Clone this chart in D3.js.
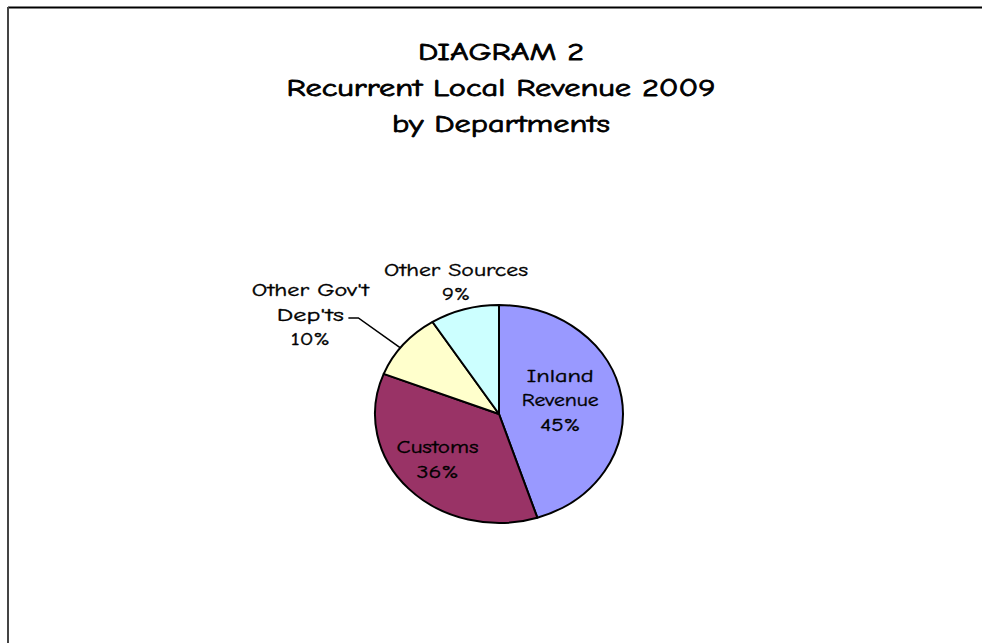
<!DOCTYPE html>
<html>
<head>
<meta charset="utf-8">
<script src="https://cdn.jsdelivr.net/npm/d3@7"></script>
<style>
  html, body { margin: 0; padding: 0; background: #fff; }
  svg { display: block; }
  text { font-family: "Comic Sans MS", "Comic Neue", "DejaVu Sans", sans-serif; fill: #000; stroke: #000; stroke-width: 0.35px; }
</style>
</head>
<body>
<svg id="chart" width="982" height="643"></svg>
<script>
// ---- data ----
const titleLines = ["DIAGRAM 2", "Recurrent Local Revenue 2009", "by Departments"];
const categories = ["Inland Revenue", "Customs", "Other Gov't Dep'ts", "Other Sources"];
const labelLines = [["Inland", "Revenue"], ["Customs"], ["Other Gov't", "Dep'ts"], ["Other Sources"]];
const values = [45, 36, 10, 9];
const colors = ["#9999FF", "#993366", "#FFFFCC", "#CCFFFF"];

// ---- layout ----
const svg = d3.select("#chart");
const W = 982, H = 643;
const cx = 499, cy = 414, rx = 124, ry = 109;

// border
svg.append("line").attr("x1", 8).attr("y1", 7.5).attr("x2", W).attr("y2", 7.5)
  .attr("stroke", "#000").attr("stroke-width", 2);
svg.append("line").attr("x1", 8).attr("y1", 7).attr("x2", 8).attr("y2", H)
  .attr("stroke", "#444").attr("stroke-width", 2);

// title
const titleW = [166, 429, 218];
const tg = svg.append("g");
titleLines.forEach((t, i) => {
  tg.append("text")
    .attr("x", 501).attr("y", 60 + i * 36)
    .attr("text-anchor", "middle")
    .attr("font-size", 24)
    .style("stroke-width", "0.8px")
    .attr("textLength", titleW[i]).attr("lengthAdjust", "spacingAndGlyphs")
    .text(t);
});

// pie
const total = d3.sum(values);
const pie = d3.pie().sort(null).value(d => d)(values);
const arc = d3.arc().innerRadius(0).outerRadius(ry);
const pg = svg.append("g").attr("transform", `translate(${cx},${cy}) scale(${rx / ry},1)`);
pg.selectAll("path").data(pie).join("path")
  .attr("d", arc)
  .attr("fill", (d, i) => colors[i])
  .attr("stroke", "#000")
  .attr("stroke-width", 2)
  .attr("vector-effect", "non-scaling-stroke")
  .attr("stroke-linejoin", "round");

function ellipsePt(angle, f) {
  return [cx + Math.sin(angle) * rx * f, cy - Math.cos(angle) * ry * f];
}

const pctFmt = v => Math.round(v / total * 100) + "%";
const lineH = 24.5;
const fs = 17;

// label centres derived from slice mid-angles
const mids = pie.map(d => (d.startAngle + d.endAngle) / 2);
const centres = [
  ellipsePt(mids[0], 0.5),
  ellipsePt(mids[1], 0.68),
  null,
  ellipsePt(mids[3], 1.24)
];
centres[3][1] += 3;
// Other Gov't label sits out to the left with a leader line
const edge2 = ellipsePt(mids[2] - 0.04, 1.0);
centres[2] = [edge2[0] - 90, edge2[1] - 28];

const wordW = {"Inland": 67, "Revenue": 77, "Customs": 82, "Other Gov't": 117, "Dep'ts": 67, "Other Sources": 144};
const pctW = {"45%": 40, "36%": 42, "10%": 39, "9%": 28};

const lg = svg.append("g");
labelLines.forEach((lines, i) => {
  const all = lines.concat([pctFmt(values[i])]);
  const n = all.length;
  const [lx, ly] = centres[i];
  all.forEach((s, j) => {
    const t = lg.append("text")
      .attr("x", lx)
      .attr("y", ly + (j - (n - 1) / 2) * lineH + 1)
      .attr("text-anchor", "middle")
      .attr("font-size", fs)
      .text(s);
    const w = wordW[s] || pctW[s];
    if (w) t.attr("textLength", w).attr("lengthAdjust", "spacingAndGlyphs");
  });
});

// leader line for Other Gov't Dep'ts
const lx0 = centres[2][0] + 38, ly0 = centres[2][1] - 2;
svg.append("polyline")
  .attr("points", [[lx0, ly0], [lx0 + 10, ly0], edge2].map(p => p.join(",")).join(" "))
  .attr("fill", "none").attr("stroke", "#000").attr("stroke-width", 1.6);
</script>
</body>
</html>
